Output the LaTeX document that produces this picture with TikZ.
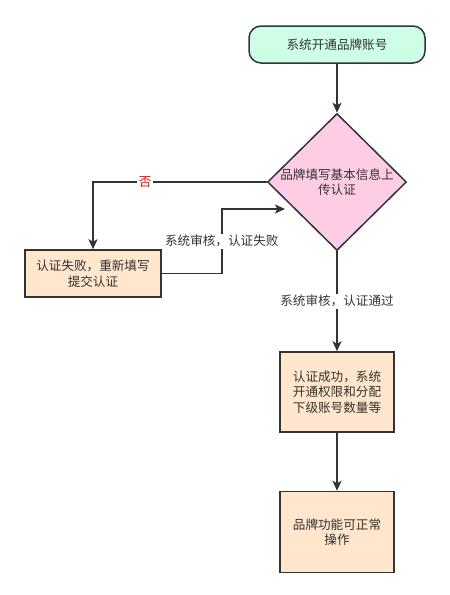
\documentclass[tikz,border=0pt]{standalone}
\usepackage{fontspec}
\setmainfont{Noto Sans CJK SC}
\usepackage{tikz}
\usetikzlibrary{positioning,arrows.meta,calc,shapes.geometric}

\definecolor{linegray}{HTML}{333333}
\definecolor{startgreen}{HTML}{CCFFE6}
\definecolor{checkpink}{HTML}{FFCCE6}
\definecolor{boxorange}{HTML}{FFE6CC}

\begin{document}
\begin{tikzpicture}[
      >={Stealth[length=10pt,width=9pt,inset=2.5pt]},
      x=1pt, y=1pt,
      font=\fontsize{12.6}{15.5}\selectfont
    ]

    \useasboundingbox (0,0) rectangle (450,-595);

    \tikzstyle{start} = [rectangle, rounded corners=12pt, minimum width=176pt, minimum height=37pt, text centered, draw=linegray, fill=startgreen, line width=1.5pt, text=linegray]

    \tikzstyle{check} = [diamond, minimum width=139pt, minimum height=137pt, inner sep=-2pt, align=center, draw=linegray, fill=checkpink, line width=1.5pt, text=linegray]

    \tikzstyle{box} = [rectangle, minimum width=114pt, minimum height=80pt, align=center, draw=linegray, fill=boxorange, line width=1.5pt, text=linegray]

    \tikzstyle{arrow} = [->, draw=linegray, line width=1.6pt]

    \tikzstyle{lbl} = [fill=white, inner sep=1.5pt, text=linegray]

    \node [start] (open) at (337,-44.5) {系统开通品牌账号};
    \node [check] (apply) [node distance=49pt, below=of open] {品牌填写基本信息上\\传认证};
    \node [box, minimum width=136pt, minimum height=47pt] (retry) at (93,-273.5) {认证失败，重新填写\\提交认证};
    \node [box] (pass) [node distance=100pt, below=of apply] {认证成功，系统\\开通权限和分配\\下级账号数量等};
    \node [box, minimum height=81pt] (usable) [node distance=58pt, below=of pass] {品牌功能可正常\\操作};
    \coordinate (resubmit) at (285,-209);

    \draw [arrow] (open) -- (apply);
    \draw [arrow] (apply.west) -| (retry) node[lbl, pos=0.35, text=red] {否};
    \draw [arrow] (retry.east) -- ($(retry.east)+(60,0)$) |- (resubmit) node[lbl, pos=0.25] {系统审核，认证失败};
    \draw [arrow] (apply) -- (pass) node[lbl, pos=0.5] {系统审核，认证通过};
    \draw [arrow] (pass) -- (usable);

\end{tikzpicture}
\end{document}
